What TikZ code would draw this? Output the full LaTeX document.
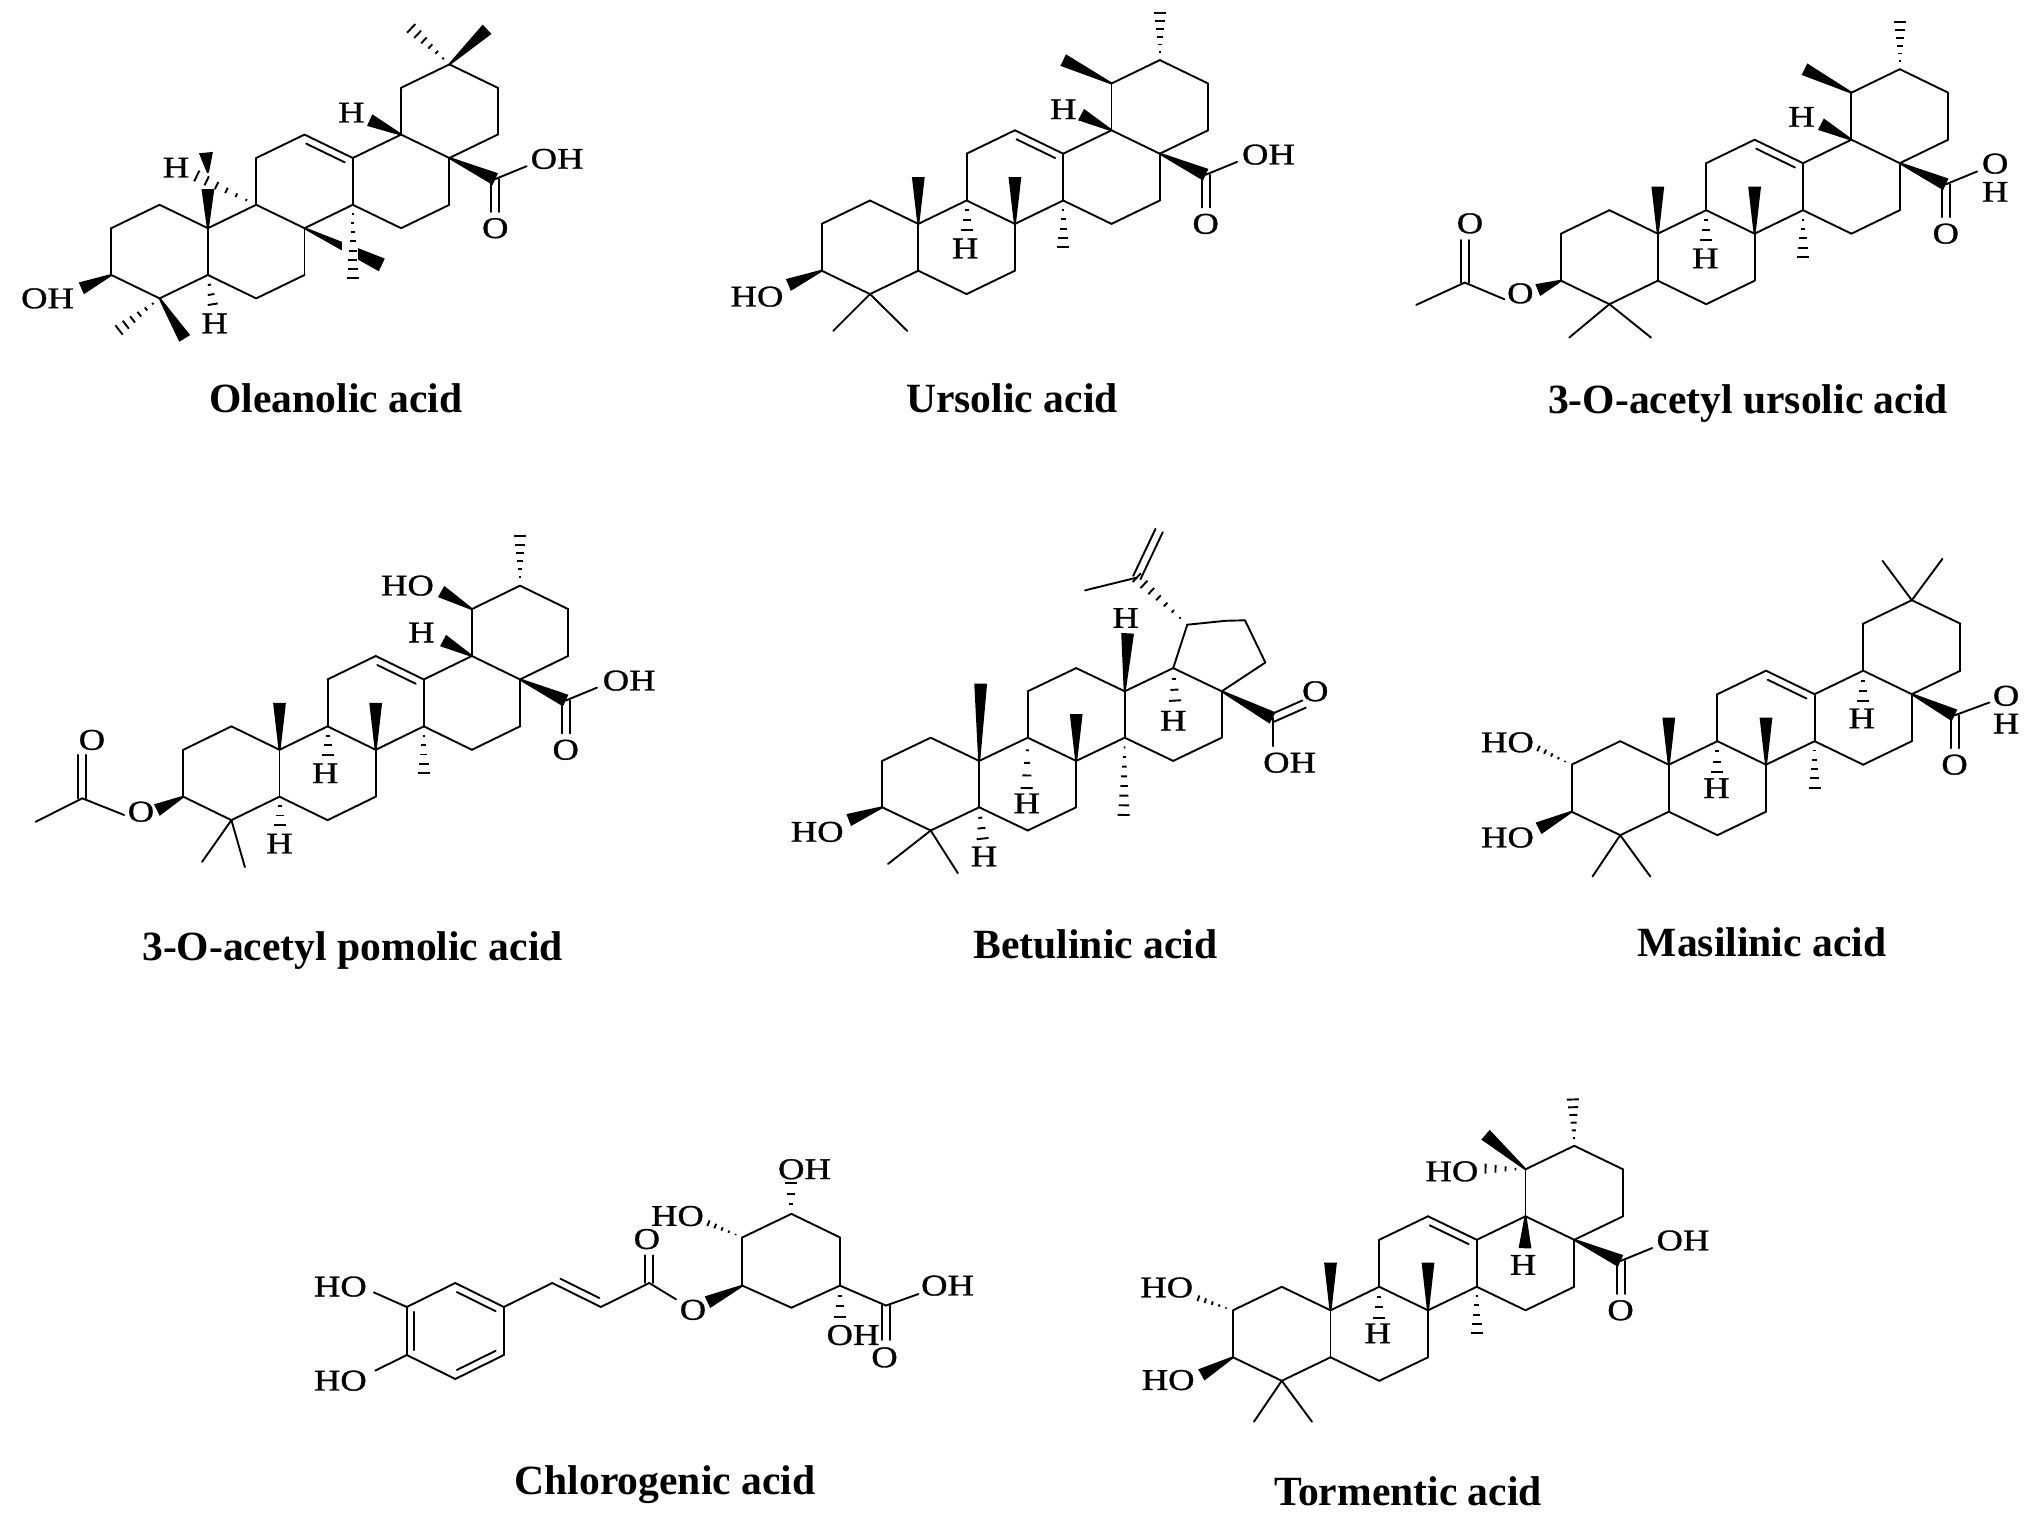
\documentclass[tikz,border=0pt]{standalone}
\usepackage{fontspec}
\setmainfont{Liberation Serif}
\newfontfamily\atomos[FakeStretch=1.22,FakeBold=1]{Liberation Serif}
\usetikzlibrary{calc}
\tikzset{
	enlace/.style={line width=.95pt, line cap=round, line join=round},
	raya/.style={line width=.95pt},
	atomo/.style={font=\atomos\fontsize{15}{15}\selectfont, inner sep=0pt},
	leyenda/.style={font=\bfseries\fontsize{20.8}{24}\selectfont, anchor=base, inner sep=0pt},
	mol/.style n args={4}{shift={(#1,#2)}, x=#3*.5pt, y=#4*.5pt}
}
\newcommand{\enlaces}[1]{\foreach \a/\b in {#1} \draw[enlace] (\a) -- (\b);}
\newcommand{\rama}[2]{\coordinate (fin) at (#2); \draw[enlace] (#1) -- (fin);}
\newcommand{\cuna}[3][3.2]{\coordinate (fin) at (#3);
	\fill ($(#2)!.5pt!90:(fin)$) -- ($(fin)!#1pt!-90:(#2)$) -- ($(fin)!#1pt!90:(#2)$) -- ($(#2)!.5pt!-90:(fin)$) -- cycle;}
\newcommand{\rayas}[4][3]{\coordinate (fin) at (#3);
	\foreach \k in {1,...,#4}{
		\pgfmathsetmacro\t{\k/#4}
		\pgfmathsetmacro\w{\t*#1}
		\coordinate (p) at ($(#2)!\t!(fin)$);
		\draw[raya] ($(p)!\w pt!90:(#2)$) -- ($(p)!\w pt!-90:(#2)$);
	}}
\newcommand{\dobleb}[2]{\coordinate (fin) at (#2);
	\draw[enlace] ($(#1)!2pt!90:(fin)$) -- ($(fin)!2pt!-90:(#1)$);
	\draw[enlace] ($(#1)!2pt!-90:(fin)$) -- ($(fin)!2pt!90:(#1)$);}
\newcommand{\interior}[2]{\coordinate (u) at ($(#1)!.1!(#2)$); \coordinate (v) at ($(#1)!.9!(#2)$);
	\draw[enlace] ($(u)!3.7pt!-90:(v)$) -- ($(v)!3.7pt!90:(u)$);}
\newcommand{\esqueleto}{
	\foreach \n/\i/\j in {C3/0/0,C2/0/2,C1/1/3,C10/2/2,C5/2/0,C4/1/-1,C6/3/-1,C7/4/0,C8/4/2,C9/3/3,
		C11/3/5,C12/4/6,C13/5/5,C14/5/3,C15/6/2,C16/7/3,C17/7/5,C18/6/6}
		\coordinate (\n) at (\i,\j);
	\enlaces{C3/C2,C2/C1,C1/C10,C10/C5,C5/C4,C4/C3,C5/C6,C6/C7,C7/C8,C8/C9,C9/C10,C9/C11,C11/C12,
		C12/C13,C13/C14,C14/C8,C14/C15,C15/C16,C16/C17,C17/C18,C18/C13}
}
\newcommand{\anilloE}{
	\foreach \n/\i/\j in {C19/6/8,C20/7/9,C21/8/8,C22/8/6} \coordinate (\n) at (\i,\j);
	\enlaces{C18/C19,C19/C20,C20/C21,C21/C22,C22/C17}
	\interior{C12}{C13}
}
\newcommand{\acido}[1][7.95]{
	\coordinate (C28) at (#1,4.1);
	\cuna{C17}{C28}
	\rama{C28}{8.6,4.65}
	\dobleb{C28}{#1,2.7}
	\node[atomo] (oc) at (#1,2) {O};
}

\begin{document}
\begin{tikzpicture}[x=.5pt,y=-.5pt]
	\useasboundingbox (0,0) rectangle (2031,1518);

	\begin{scope}[mol={111.3}{275}{48.3}{23.4},name prefix=ol-]
		\esqueleto \anilloE \acido
		\node[atomo] (oh) at (9.23,4.96) {OH};
		\cuna{C20}{7.78,10.5}
		\rayas{C20}{6.21,10.54}{6}
		\cuna{C18}{5.35,6.62}
		\node[atomo] (h18) at (4.97,6.94) {H};
		\rayas{C9}{1.77,4.23}{6}
		\cuna{C10}{2,3.67}
		\coordinate (h9) at (2,4.37);
		\cuna[3.5]{h9}{1.96,5.23}
		\node[atomo] (h9l) at (1.34,4.59) {H};
		\cuna[3.5]{C8}{5.6,.43}
		\fill[white] (4.78,.64) rectangle (5.11,1.7);
		\rayas{C14}{5,-.13}{8}
		\rayas[2.5]{C5}{2.1,-1.25}{3}
		\node[atomo] (h5) at (2.14,-2.07) {H};
		\cuna{C3}{-.62,-.57}
		\node[atomo] (oh3) at (-1.32,-1) {OH};
		\cuna{C4}{1.52,-2.71}
		\rayas{C4}{.16,-2.35}{6}
	\end{scope}

	\begin{scope}[mol={821.7}{270.7}{48.3}{23.4},name prefix=ur-]
		\esqueleto \anilloE \acido
		\node[atomo] (oh) at (9.25,4.96) {OH};
		\cuna{C19}{5,9}
		\rayas{C20}{7,11}{6}
		\cuna{C18}{5.37,6.67}
		\node[atomo] (h18) at (5,6.9) {H};
		\cuna{C10}{2,4}
		\cuna{C8}{4,4}
		\rayas{C14}{5,1}{5}
		\rayas{C9}{3,1.75}{3}
		\node[atomo] (h9) at (2.97,.95) {H};
		\cuna{C3}{-.69,-.61}
		\node[atomo] (ho3) at (-1.34,-1.11) {HO};
		\rama{C4}{.24,-2.57}
		\rama{C4}{1.77,-2.57}
	\end{scope}

	\begin{scope}[mol={1561}{280.7}{48.4}{23.5},name prefix=au-]
		\esqueleto \anilloE \acido
		\node[atomo] (o) at (8.97,4.98) {O};
		\node[atomo] (h) at (8.97,3.78) {H};
		\cuna{C19}{5.03,9}
		\rayas{C20}{7,11}{6}
		\cuna{C18}{5.37,6.66}
		\node[atomo] (h18) at (4.97,6.97) {H};
		\cuna{C10}{2,4}
		\cuna{C8}{4,4}
		\rayas{C14}{5,1}{5}
		\rayas{C9}{3,1.73}{3}
		\node[atomo] (h9) at (2.98,.95) {H};
		\cuna{C3}{-.48,-.4}
		\node[atomo] (o3) at (-.84,-.54) {O};
		\coordinate (Ac) at (-1.99,-.08);
		\rama{Ac}{-1.17,-.79}
		\rama{Ac}{-2.99,-1.03}
		\dobleb{Ac}{-1.99,1.73}
		\node[atomo] (oa) at (-1.88,2.44) {O};
		\rama{C4}{.17,-2.42}
		\rama{C4}{1.86,-2.42}
	\end{scope}

	\begin{scope}[mol={183.3}{796.7}{48.1}{23.45},name prefix=ap-]
		\esqueleto \anilloE \acido
		\node[atomo] (oh) at (9.27,4.95) {OH};
		\cuna{C19}{5.36,8.75}
		\node[atomo] (ho19) at (4.66,9) {HO};
		\rayas{C20}{7,11.1}{6}
		\cuna{C18}{5.4,6.66}
		\node[atomo] (h18) at (4.95,7) {H};
		\cuna{C10}{2,4}
		\cuna{C8}{4,4}
		\rayas{C14}{5,1}{5}
		\rayas{C9}{3,1.78}{3}
		\node[atomo] (h9) at (2.95,1) {H};
		\rayas{C5}{2,-1.2}{3}
		\node[atomo] (h5) at (2,-2) {H};
		\cuna{C3}{-.55,-.57}
		\node[atomo] (o3) at (-.88,-.64) {O};
		\coordinate (Ac) at (-2.1,-.07);
		\rama{Ac}{-1.23,-.78}
		\rama{Ac}{-3.07,-1.07}
		\dobleb{Ac}{-2.1,1.78}
		\node[atomo] (oa) at (-1.9,2.42) {O};
		\rama{C4}{.39,-2.78}
		\rama{C4}{1.28,-3}
	\end{scope}

	\begin{scope}[mol={882.2}{807.3}{48.5}{23.2},name prefix=be-]
		\esqueleto
		\foreach \n/\i/\j in {Ea/6.29/7.87,Eb/7.09/8.04,Ec/7.48/8.06,Ed/7.9/6.24,Ip/5.25/9.9}
			\coordinate (\n) at (\i,\j);
		\enlaces{C18/Ea,Ea/Eb,Eb/Ec,Ec/Ed,Ed/C17}
		\rayas{Ea}{Ip}{7}
		\rama{Ip}{4.18,9.35}
		\dobleb{Ip}{5.71,11.93}
		\cuna{C13}{5.06,7.5}
		\node[atomo] (h13) at (5.02,8.16) {H};
		\cuna{C10}{2.03,5.33}
		\cuna{C8}{4,4.02}
		\rayas{C14}{4.98,-.33}{8}
		\rayas{C9}{2.98,.83}{4}
		\node[atomo] (h9) at (2.98,.17) {H};
		\rayas{C5}{2.07,-1.35}{3}
		\node[atomo] (h5) at (2.1,-2.12) {H};
		\rayas{C18}{6.04,4.6}{3}
		\node[atomo] (h18) at (6,3.73) {H};
		\cuna{C3}{-.69,-.55}
		\node[atomo] (ho3) at (-1.34,-1.06) {HO};
		\rama{C4}{.12,-2.44}
		\rama{C4}{1.56,-2.84}
		\coordinate (C28) at (8.05,3.85);
		\cuna{C17}{C28}
		\dobleb{C28}{8.7,4.45}
		\node[atomo] (oc) at (8.93,5) {O};
		\rama{C28}{8.05,2.64}
		\node[atomo] (oh) at (8.4,1.92) {OH};
	\end{scope}

	\begin{scope}[mol={1571.6}{811.7}{48.6}{23.5},name prefix=ma-]
		\esqueleto \anilloE \acido[7.88]
		\node[atomo] (o) at (8.94,4.93) {O};
		\node[atomo] (h) at (8.94,3.75) {H};
		\rama{C20}{6.4,10.67}
		\rama{C20}{7.63,10.76}
		\rayas{C18}{6,4.72}{3}
		\node[atomo] (h18) at (5.97,3.97) {H};
		\cuna{C10}{2,4}
		\cuna{C8}{4,4}
		\rayas{C14}{5,1.02}{5}
		\rayas{C9}{3,1.7}{3}
		\node[atomo] (h9) at (2.98,1) {H};
		\rayas[1.5]{C2}{-.68,2.69}{5}
		\node[atomo] (ho2) at (-1.32,2.95) {HO};
		\cuna{C3}{-.68,-.71}
		\node[atomo] (ho3) at (-1.32,-1.1) {HO};
		\rama{C4}{.43,-2.76}
		\rama{C4}{1.62,-2.76}
	\end{scope}

	\begin{scope}[mol={406.8}{1355}{48.5}{24},name prefix=cl-]
		\foreach \n/\i/\j in {r1/0/0,r2/0/2,r3/1/3,r4/2/2,r5/2/0,r6/1/-1,a/3/3,b/4/2,c/5/3,
			Q3/6.92/2.89,Q4/6.92/4.9,Q5/7.93/5.88,Q6/8.93/4.9,Q1/8.93/2.89,Q2/7.93/1.97,C/9.88/2.06}
			\coordinate (\n) at (\i,\j);
		\enlaces{r1/r2,r2/r3,r3/r4,r4/r5,r5/r6,r6/r1,r4/a,a/b,b/c,Q3/Q4,Q4/Q5,Q5/Q6,Q6/Q1,Q1/Q2,Q2/Q3,Q1/C}
		\interior{r1}{r2}
		\interior{r3}{r4}
		\interior{r5}{r6}
		\interior{b}{a}
		\rama{r2}{-.68,2.61}
		\node[atomo] (ho1) at (-1.37,2.85) {HO};
		\rama{r1}{-.65,-.65}
		\node[atomo] (ho2) at (-1.37,-1.07) {HO};
		\dobleb{c}{5,4.15}
		\node[atomo] (oc) at (4.95,4.83) {O};
		\rama{c}{5.55,2.32}
		\node[atomo] (oe) at (5.9,1.88) {O};
		\cuna{Q3}{6.2,2.2}
		\rayas{Q5}{7.93,7.15}{3}
		\node[atomo] (oh5) at (8.2,7.74) {OH};
		\rayas[1.5]{Q4}{6.22,5.49}{5}
		\node[atomo] (ho4) at (5.58,5.79) {HO};
		\rayas{Q1}{8.93,1.6}{3}
		\node[atomo] (oh1) at (9.2,.83) {OH};
		\rama{C}{10.55,2.54}
		\node[atomo] (ohc) at (11.15,2.89) {OH};
		\dobleb{C}{9.88,.63}
		\node[atomo] (oa) at (9.85,-.1) {O};
	\end{scope}

	\begin{scope}[mol={1233}{1357.3}{48.75}{23.5},name prefix=to-]
		\esqueleto \anilloE \acido
		\node[atomo] (oh) at (9.23,4.97) {OH};
		\rayas{C20}{6.97,10.97}{6}
		\cuna{C19}{5.18,9.47}
		\rayas[2.5]{C19}{5.18,8.03}{4}
		\node[atomo] (ho19) at (4.49,7.91) {HO};
		\cuna{C18}{5.99,4.64}
		\node[atomo] (h18) at (5.95,3.93) {H};
		\cuna{C10}{2,4.03}
		\cuna{C8}{4,4.03}
		\rayas{C14}{5,1.02}{5}
		\rayas{C9}{3,1.69}{3}
		\node[atomo] (h9) at (2.97,1.02) {H};
		\rayas[1.5]{C2}{-.71,2.51}{5}
		\node[atomo] (ho2) at (-1.36,2.97) {HO};
		\cuna{C3}{-.65,-.75}
		\node[atomo] (ho3) at (-1.33,-.97) {HO};
		\rama{C4}{.43,-2.74}
		\rama{C4}{1.62,-2.74}
	\end{scope}

	\node[leyenda] (capOle) at (336,412.5) {Oleanolic acid};
	\node[leyenda] (capUrs) at (1012,412.5) {Ursolic acid};
	\node[leyenda] (capAcU) at (1748,413.5) {3-O-acetyl ursolic acid};
	\node[leyenda] (capAcP) at (352.5,960.5) {3-O-acetyl pomolic acid};
	\node[leyenda] (capBet) at (1095.5,958.5) {Betulinic acid};
	\node[leyenda] (capMas) at (1762,957) {Masilinic acid};
	\node[leyenda] (capChl) at (665,1494) {Chlorogenic acid};
	\node[leyenda] (capTor) at (1408,1505) {Tormentic acid};
\end{tikzpicture}
\end{document}
